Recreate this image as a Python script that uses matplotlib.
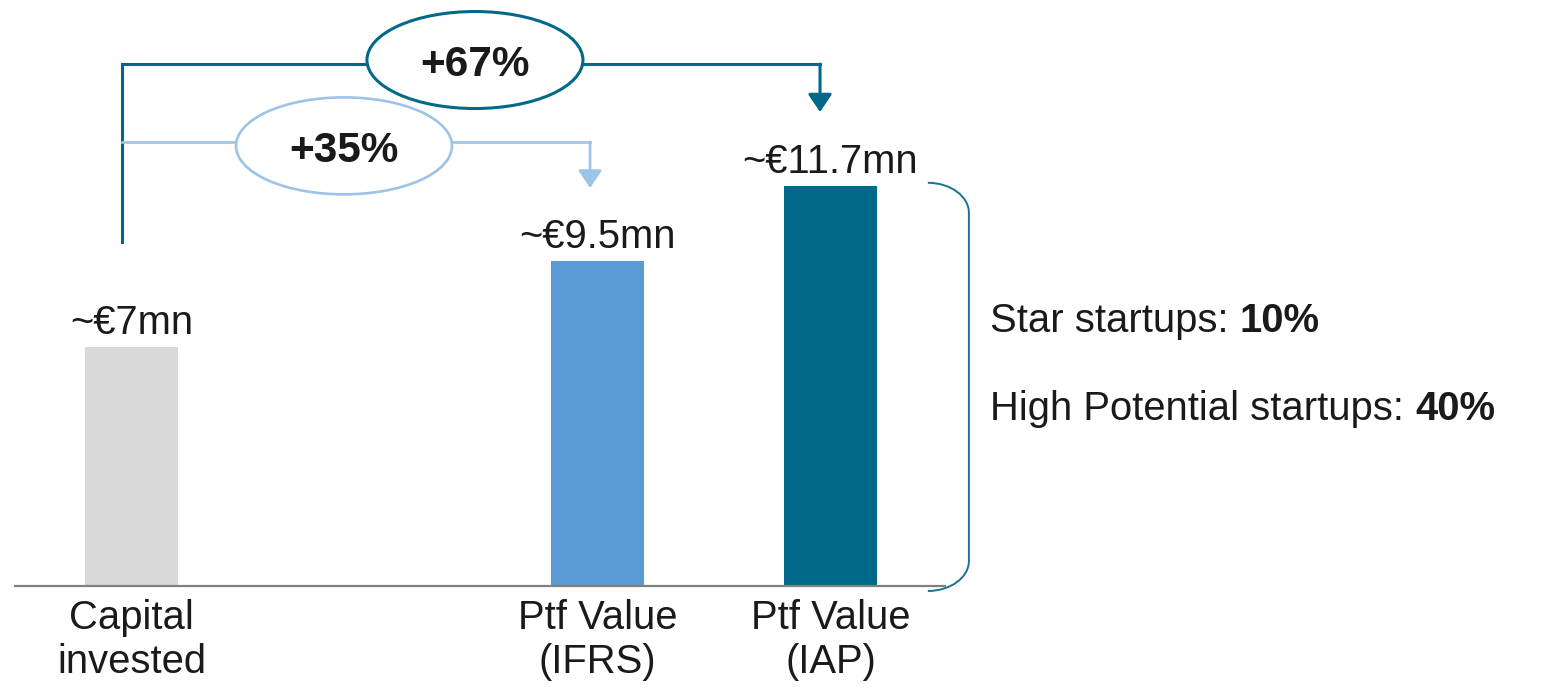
import matplotlib.pyplot as plt
from matplotlib.patches import Ellipse, PathPatch
from matplotlib.path import Path

plt.rcParams['font.family'] = ['Liberation Sans', 'DejaVu Sans']

# data
categories = ['Capital\ninvested', 'Ptf Value\n(IFRS)', 'Ptf Value\n(IAP)']
positions = [0, 2, 3]
values = [7, 9.5, 11.7]
value_labels = ['~€7mn', '~€9.5mn', '~€11.7mn']
growth_labels = ['+35%', '+67%']
mix_labels = ['Star startups: ', 'High Potential startups: ']
mix_values = ['10%', '40%']

GRAY = '#D9D9D9'
LIGHT = '#5B9BD5'
DARK = '#006888'
LIGHT_LINE = '#9DC3E6'
TEXT = '#1A1A1A'
FS = 28.8

fig = plt.figure(figsize=(15.49, 6.91), dpi=100)
ax = fig.add_axes([0, 0, 1, 1])
ax.set_xlim(-0.5644, 6.0837)
ax.set_ylim(-3.07, 17.135)
ax.axis('off')

# bars
ax.bar(positions, values, width=0.4, color=[GRAY, LIGHT, DARK], zorder=2)
ax.plot([-0.5, 3.49], [0, 0], color='#808080', lw=1.6, zorder=3)

for p, v, lab in zip(positions, values, value_labels):
    ax.text(p, v + 0.38, lab, ha='center', va='baseline', fontsize=FS, color=TEXT)

# two line category names, placed by the baseline of the last line
for p, lab in zip(positions, categories):
    ax.text(p, -2.54, lab, ha='center', va='baseline', fontsize=FS, color=TEXT,
            linespacing=1.2)


def growth_arrow(x_start, x_end, level, tip, y_bottom, color, lw, label, ell_x, ell_y):
    # elbow line from the capital bar up, across and down onto a bar
    if y_bottom is not None:
        ax.plot([x_start, x_start], [y_bottom, level], color=color, lw=lw,
                solid_capstyle='projecting', zorder=2)
    ax.plot([x_start, x_end], [level, level], color=color, lw=lw,
            solid_capstyle='projecting', zorder=2)
    ax.annotate('', xy=(x_end, tip), xytext=(x_end, level),
                arrowprops=dict(arrowstyle='-|>,head_length=0.4,head_width=0.27',
                                color=color, lw=lw, mutation_scale=27,
                                shrinkA=0, shrinkB=0))
    ax.add_patch(Ellipse((ell_x, ell_y), 0.927, 2.836, facecolor='white',
                         edgecolor=color, lw=lw, zorder=4))
    ax.text(ell_x, ell_y - 0.48, label, ha='center', va='baseline', fontsize=30.5,
            fontweight='bold', color=TEXT, zorder=5)


# +67% (capital -> IAP) and +35% (capital -> IFRS)
growth_arrow(positions[0] - 0.041, positions[2] - 0.045, 15.26, values[2] + 2.16,
             values[0] + 3.06, DARK, 2.2, growth_labels[1], 1.474, 15.38)
growth_arrow(positions[0] - 0.041, positions[1] - 0.032, 12.98, values[1] + 2.14,
             None, LIGHT_LINE, 1.9, growth_labels[0], 0.912, 12.87)

# rounded bracket next to the IAP bar
xl = positions[2] + 0.418
xr = positions[2] + 0.594
rx, ry = xr - xl, 0.877
top, bot = values[2] + 0.09, -0.146
k = 0.55
verts = [(xl, top), (xl + k * rx, top), (xr, top - ry + k * ry), (xr, top - ry),
         (xr, bot + ry),
         (xr, bot + ry - k * ry), (xl + k * rx, bot), (xl, bot)]
codes = [Path.MOVETO, Path.CURVE4, Path.CURVE4, Path.CURVE4,
         Path.LINETO,
         Path.CURVE4, Path.CURVE4, Path.CURVE4]
ax.add_patch(PathPatch(Path(verts, codes), facecolor='none', edgecolor='#1A7394', lw=1.4))

# startup mix text, value part in bold
for lab, val, y in zip(mix_labels, mix_values, [7.43, 4.85]):
    t = ax.text(3.685, y, lab, ha='left', va='baseline', fontsize=FS, color=TEXT)
    ax.annotate(val, xy=(1, 0), xycoords=t, ha='left', va='bottom', fontsize=FS,
                fontweight='bold', color=TEXT)

fig.savefig('out.png', dpi=100)
